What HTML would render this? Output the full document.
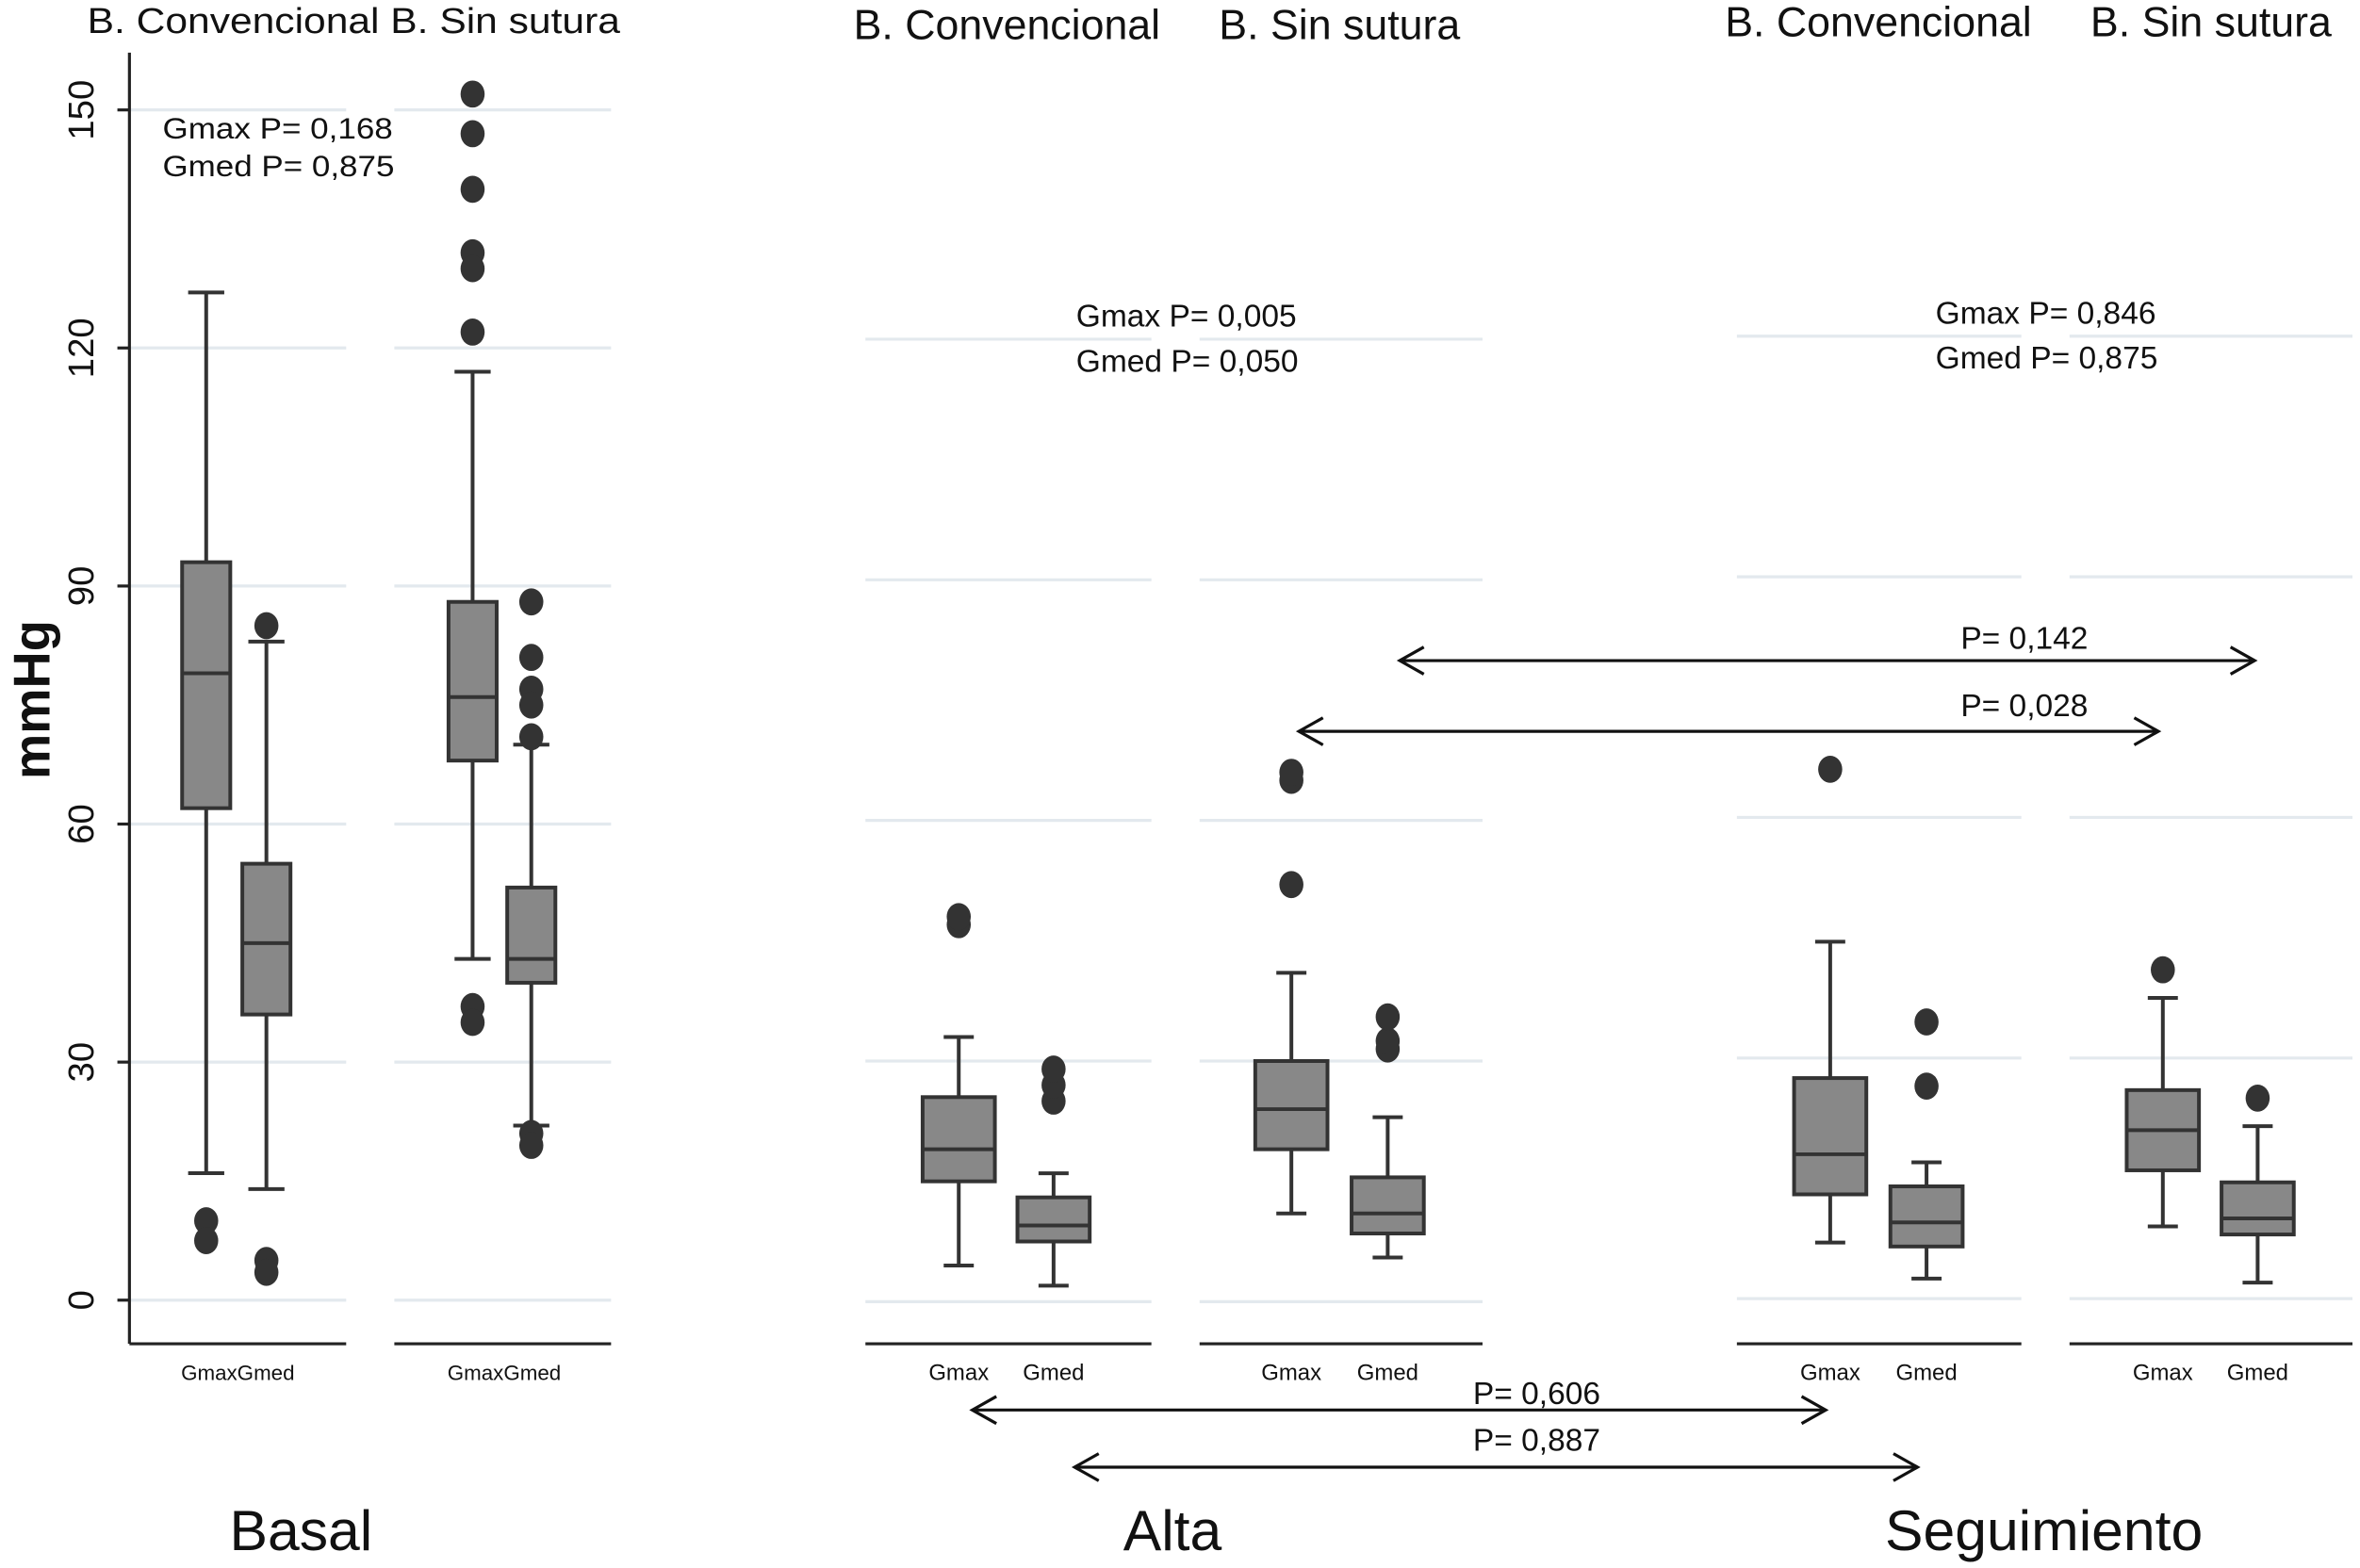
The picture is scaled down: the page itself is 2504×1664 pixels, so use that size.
<!DOCTYPE html>
<html><head><meta charset="utf-8">
<style>
html,body{margin:0;padding:0;background:#fff;}
svg{display:block;}
text{font-family:"Liberation Sans Narrow","Liberation Sans",sans-serif;fill:#111;}
</style></head>
<body>
<svg id="chart" width="2504" height="1664" viewBox="0 0 1568 1042" preserveAspectRatio="none" xmlns="http://www.w3.org/2000/svg">
<g id="grid"></g>
<g id="axes"></g>
<g id="boxes"></g>
<g id="labels">
<text x="0" y="0" font-size="34" font-weight="bold" text-anchor="middle" transform="translate(33,465) rotate(-90)">mmHg</text>
<text x="58" y="22" font-size="24" textLength="354" lengthAdjust="spacingAndGlyphs">B. Convencional B. Sin sutura</text>
<text x="669" y="26" font-size="28" text-anchor="middle">B. Convencional</text>
<text x="890" y="26" font-size="28" text-anchor="middle">B. Sin sutura</text>
<text x="1248" y="24" font-size="28" text-anchor="middle">B. Convencional</text>
<text x="1469" y="24" font-size="28" text-anchor="middle">B. Sin sutura</text>
<text x="108" y="92" font-size="20" textLength="153" lengthAdjust="spacingAndGlyphs">Gmax P= 0,168</text>
<text x="108" y="117" font-size="20" textLength="154" lengthAdjust="spacingAndGlyphs">Gmed P= 0,875</text>
<text x="715" y="217" font-size="21">Gmax P= 0,005</text>
<text x="715" y="247" font-size="21">Gmed P= 0,050</text>
<text x="1286" y="215" font-size="21">Gmax P= 0,846</text>
<text x="1286" y="245" font-size="21">Gmed P= 0,875</text>
<text x="200" y="1030" font-size="38" font-weight="500" text-anchor="middle">Basal</text>
<text x="779" y="1030" font-size="38" text-anchor="middle">Alta</text>
<text x="1358" y="1030" font-size="38" text-anchor="middle">Seguimiento</text>
</g>
<g id="arrows"></g>
</svg>
<script>
const panelNames=['basal-conv','basal-sin','alta-conv','alta-sin','seg-conv','seg-sin'];
const panelX0=[86,262,575,797,1154,1375];
const panelX1=[230,406,765,985,1343,1563];
const panelZero=[864,864,865,865,863,863];
const panelScale=[5.273,5.273,5.33,5.33,5.33,5.33];
const yTicks=[0,30,60,90,120,150];
const seriesNames=['Gmax','Gmed'];
const q1=[[62,36],[68,40],[15,7.5],[19,8.5],[13,6.5],[16,8]];
const med=[[79,45],[76,43],[19,9.5],[24,11],[18,9.5],[21,10]];
const q3=[[93,55],[88,52],[25.5,13],[30,15.5],[27.5,14],[26,14.5]];
const wLo=[[16,14],[43,22],[4.5,2],[11,5.5],[7,2.5],[9,2]];
const wHi=[[127,83],[117,70],[33,16],[41,23],[44.5,17],[37.5,21.5]];
const outliers=[[[10,7.5],[85,5,3.5]],[[152,147,140,132,130,122,37,35],[88,81,77,75,71,21,19.5]],[[47,48],[25,27,29]],[[52,65,66],[31.5,32.5,35.5]],[[66],[26.5,34.5]],[[41],[25]]];
const boxCenters=[[137,177],[314,353],[637,700],[858,922],[1216,1280],[1437,1500]];
const ns='http://www.w3.org/2000/svg';
function mk(tag,attrs,parent){const e=document.createElementNS(ns,tag);for(const k in attrs)e.setAttribute(k,attrs[k]);parent.appendChild(e);return e;}
const G=document.getElementById('grid'),A=document.getElementById('axes'),B=document.getElementById('boxes'),R=document.getElementById('arrows');
function yS(p,v){return panelZero[p]-v*panelScale[p];}
panelNames.forEach((nm,p)=>{
  yTicks.forEach(t=>{
    if(p>=2 && t>120) return;
    const l=mk('line',{x1:panelX0[p],x2:panelX1[p],y1:yS(p,t),y2:yS(p,t),stroke:'#e3e9ee','stroke-width':2},G);
    
    
  });
  const bl=mk('line',{x1:panelX0[p],x2:panelX1[p],y1:893,y2:893,stroke:'#222','stroke-width':2},A);
  
  
  if(p<2){
    const tl=mk('text',{x:boxCenters[p][0]+21,y:917,'font-size':14,'text-anchor':'middle'},A);
    tl.textContent='GmaxGmed';
    
    
  } else {
    seriesNames.forEach((s,i)=>{
      const tl=mk('text',{x:boxCenters[p][i],y:917,'font-size':15,'text-anchor':'middle'},A);
      tl.textContent=s;
      
      
    });
  }
  seriesNames.forEach((s,i)=>{
    const cx=boxCenters[p][i];
    const g=mk('g',{},B);
    
    
    const hw=p<2?16:24, cw=p<2?12:10;
    mk('line',{x1:cx,x2:cx,y1:yS(p,wHi[p][i]),y2:yS(p,q3[p][i]),stroke:'#333','stroke-width':2.5},g);
    mk('line',{x1:cx,x2:cx,y1:yS(p,q1[p][i]),y2:yS(p,wLo[p][i]),stroke:'#333','stroke-width':2.5},g);
    mk('line',{x1:cx-cw,x2:cx+cw,y1:yS(p,wHi[p][i]),y2:yS(p,wHi[p][i]),stroke:'#333','stroke-width':2.5},g);
    mk('line',{x1:cx-cw,x2:cx+cw,y1:yS(p,wLo[p][i]),y2:yS(p,wLo[p][i]),stroke:'#333','stroke-width':2.5},g);
    mk('rect',{x:cx-hw,y:yS(p,q3[p][i]),width:hw*2,height:yS(p,q1[p][i])-yS(p,q3[p][i]),fill:'#888',stroke:'#333','stroke-width':2.5},g);
    mk('line',{x1:cx-hw,x2:cx+hw,y1:yS(p,med[p][i]),y2:yS(p,med[p][i]),stroke:'#333','stroke-width':2.5},g);
    outliers[p][i].forEach((v,k)=>{
      const o=mk('ellipse',{cx:cx,cy:yS(p,v),rx:8,ry:9,fill:'#333'},g);
      
      
    });
  });
});
const ya=mk('line',{x1:86,x2:86,y1:35,y2:893,stroke:'#222','stroke-width':2},A);


yTicks.forEach(t=>{
  const y=yS(0,t);
  const tk=mk('line',{x1:78,x2:86,y1:y,y2:y,stroke:'#222','stroke-width':2},A);
  
  
  const tl=mk('text',{x:0,y:0,'font-size':24,'text-anchor':'middle',transform:'translate(62,'+y+') rotate(-90)'},A);
  tl.textContent=String(t);
  
  
});
const arrowLabels=['P= 0,142','P= 0,028','P= 0,606','P= 0,887'];
const arrowSpec=[[930,1498,439,1345,431],[863,1434,486,1345,476],[646,1213,937,1021,933],[714,1274,975,1021,964]];
arrowSpec.forEach((a,i)=>{
  const g=mk('g',{},R);
  
  
  mk('line',{x1:a[0],x2:a[1],y1:a[2],y2:a[2],stroke:'#111','stroke-width':2},g);
  mk('polyline',{points:(a[0]+16)+','+(a[2]-9)+' '+a[0]+','+a[2]+' '+(a[0]+16)+','+(a[2]+9),fill:'none',stroke:'#111','stroke-width':2},g);
  mk('polyline',{points:(a[1]-16)+','+(a[2]-9)+' '+a[1]+','+a[2]+' '+(a[1]-16)+','+(a[2]+9),fill:'none',stroke:'#111','stroke-width':2},g);
  const t=mk('text',{x:a[3],y:a[4],'font-size':21,'text-anchor':'middle'},g);
  t.textContent=arrowLabels[i];
});
</script>
</body></html>
